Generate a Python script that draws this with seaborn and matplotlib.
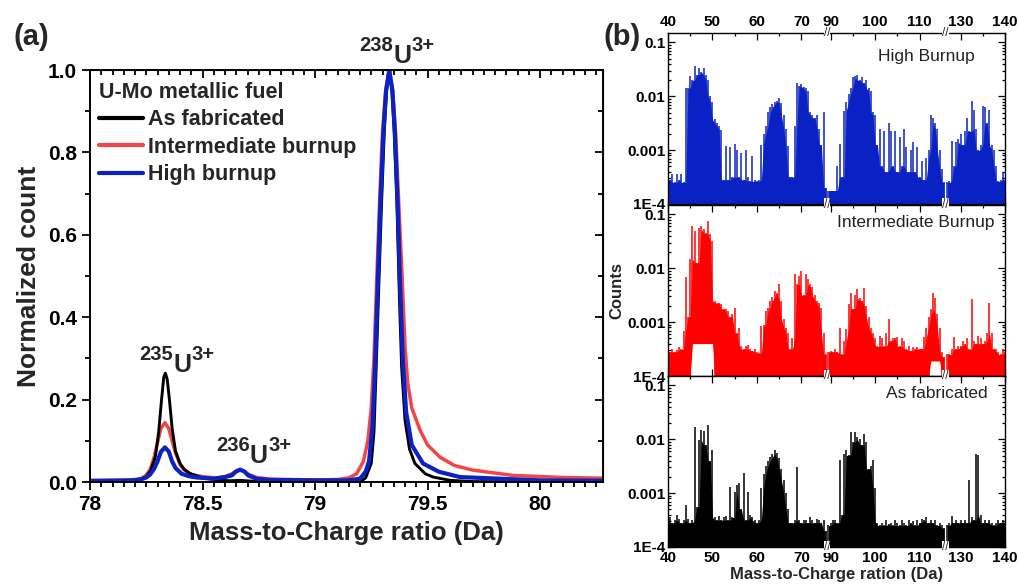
from __future__ import annotations

import matplotlib

matplotlib.use("Agg")
import matplotlib.pyplot as plt
import matplotlib.ticker as mticker
import matplotlib.transforms as mtransforms
import numpy as np
import seaborn as sns

# ---- panel (a): normalized spectra around the U3+ peaks ----
fab_mz = [78.00, 78.15, 78.22, 78.25, 78.27, 78.29, 78.305, 78.318, 78.328, 78.335,
          78.343, 78.353, 78.365, 78.38, 78.40, 78.42, 78.444, 78.50, 78.563, 78.62,
          78.667, 78.72, 78.80, 79.00, 79.15, 79.20, 79.225, 79.25, 79.262, 79.272,
          79.285, 79.296, 79.308, 79.318, 79.33, 79.342, 79.352, 79.364, 79.375, 79.385,
          79.40, 79.42, 79.444, 79.49, 79.525, 79.60, 79.70, 80.30]
fab_count = [0.002, 0.002, 0.006, 0.013, 0.028, 0.06, 0.12, 0.2, 0.255, 0.264,
             0.25, 0.2, 0.13, 0.075, 0.045, 0.03, 0.021, 0.01, 0.005, 0.003,
             0.004, 0.002, 0.001, 0.001, 0.001, 0.0, 0.01, 0.045, 0.12, 0.28,
             0.5, 0.68, 0.85, 0.95, 1.0, 0.95, 0.85, 0.68, 0.45, 0.28,
             0.15, 0.08, 0.045, 0.02, 0.012, 0.004, 0.001, 0.0]

mid_mz = [78.00, 78.15, 78.20, 78.23, 78.25, 78.267, 78.285, 78.30, 78.315, 78.333,
          78.35, 78.365, 78.38, 78.40, 78.415, 78.45, 78.50, 78.56, 78.60, 78.63,
          78.65, 78.667, 78.685, 78.70, 78.74, 78.80, 79.00, 79.10, 79.15, 79.185,
          79.215, 79.235, 79.25, 79.262, 79.275, 79.287, 79.30, 79.314, 79.33, 79.345,
          79.358, 79.372, 79.387, 79.40, 79.412, 79.43, 79.467, 79.50, 79.556, 79.62,
          79.70, 79.88, 80.10, 80.30]
mid_count = [0.003, 0.004, 0.006, 0.009, 0.017, 0.03, 0.06, 0.095, 0.13, 0.144,
             0.13, 0.1, 0.07, 0.043, 0.031, 0.018, 0.013, 0.01, 0.013, 0.02,
             0.026, 0.029, 0.026, 0.02, 0.011, 0.007, 0.005, 0.006, 0.01, 0.02,
             0.05, 0.1, 0.18, 0.3, 0.5, 0.68, 0.85, 0.95, 1.0, 0.95,
             0.85, 0.68, 0.5, 0.33, 0.24, 0.18, 0.126, 0.09, 0.06, 0.04,
             0.029, 0.016, 0.011, 0.009]

high_mz = [78.00, 78.20, 78.23, 78.25, 78.267, 78.285, 78.30, 78.315, 78.333, 78.35,
           78.365, 78.38, 78.407, 78.44, 78.474, 78.55, 78.60, 78.63, 78.65, 78.667,
           78.685, 78.703, 78.74, 78.80, 79.00, 79.15, 79.20, 79.225, 79.24, 79.255,
           79.267, 79.28, 79.291, 79.304, 79.316, 79.33, 79.344, 79.355, 79.367, 79.378,
           79.39, 79.405, 79.43, 79.48, 79.55, 79.644, 80.00, 80.30]
high_count = [0.003, 0.004, 0.007, 0.011, 0.018, 0.032, 0.05, 0.073, 0.084, 0.074,
              0.05, 0.034, 0.02, 0.014, 0.011, 0.008, 0.012, 0.016, 0.026, 0.03,
              0.026, 0.016, 0.008, 0.005, 0.004, 0.004, 0.008, 0.025, 0.05, 0.13,
              0.28, 0.5, 0.68, 0.85, 0.95, 1.0, 0.95, 0.85, 0.68, 0.48,
              0.3, 0.17, 0.09, 0.045, 0.025, 0.012, 0.004, 0.003]

# isotope labels: (mass number, left edge of "U" in Da, baseline in count units)
peak_labels = [("238", 79.347, 1.017), ("235", 78.369, 0.268), ("236", 78.711, 0.046)]

# ---- panel (b): log10(counts) on a 0.5 Da grid, three mass windows ----
mass_lo = np.arange(40.0, 76.0, 0.5)    # 40 .. 75.5
mass_mid = np.arange(89.5, 116.0, 0.5)  # 89.5 .. 115.5
mass_hi = np.arange(127.0, 140.5, 0.5)  # 127 .. 140

high_lo = [-3.35, -3.55, -3.45, -3.6, -3.45, -3.55, -3.45, -3.6, -1.84, -1.85,
           -1.62, -1.7, -1.43, -1.6, -1.47, -1.55, -1.47, -1.6, -1.7, -2.0,
           -2.1, -2.43, -2.5, -2.55, -2.62, -3.55, -2.93, -3.55, -2.95, -3.5,
           -2.88, -3.0, -3.5, -3.05, -3.55, -3.0, -3.5, -3.58, -3.1, -3.55,
           -3.58, -3.55, -2.9, -2.7, -2.55, -2.3, -2.2, -2.15, -2.1, -2.08,
           -2.04, -2.12, -2.35, -2.6, -2.93, -3.5, -3.5, -2.55, -1.76, -1.8,
           -1.78, -1.82, -1.85, -1.9, -2.3, -2.35, -2.4, -2.35, -2.6, -2.9,
           -2.3, -3.7]
high_mid = [-3.75, -3.75, -3.75, -3.75, -3.3, -2.88, -3.5, -2.27, -2.1, -1.95,
            -1.84, -1.65, -1.63, -1.6, -1.7, -1.65, -1.75, -1.7, -1.85, -1.9,
            -2.3, -2.35, -2.9, -2.6, -3.3, -2.65, -3.4, -2.5, -2.65, -3.3,
            -2.65, -3.4, -2.75, -3.3, -2.6, -2.95, -3.4, -3.0, -2.85, -3.4,
            -2.95, -3.5, -3.2, -3.55, -3.15, -3.0, -2.34, -2.4, -2.5, -2.6,
            -3.0, -3.35, -3.6]
high_hi = [-3.6, -3.58, -2.83, -3.3, -2.85, -2.8, -2.7, -2.9, -2.65, -2.4,
           -2.65, -2.09, -2.25, -2.6, -3.0, -2.9, -2.18, -2.2, -2.5, -2.25,
           -2.9, -3.0, -3.3, -3.58, -3.55, -3.4, -3.55]

inter_lo = [-3.47, -3.55, -3.5, -3.55, -3.52, -3.47, -3.5, -3.16, -2.17, -2.9,
            -1.83, -1.22, -1.3, -1.9, -1.25, -1.22, -1.27, -1.35, -1.12, -1.37,
            -1.5, -2.6, -2.65, -2.65, -2.66, -2.75, -2.76, -2.8, -2.9, -2.85,
            -2.73, -3.2, -3.1, -3.45, -3.5, -3.45, -3.42, -3.5, -3.53, -3.5,
            -3.55, -3.58, -3.07, -3.05, -2.8, -2.73, -2.6, -2.54, -2.42, -2.45,
            -2.3, -2.6, -2.95, -3.1, -3.2, -3.5, -3.3, -2.11, -2.3, -2.15,
            -2.05, -2.5, -2.1, -2.2, -2.3, -2.35, -2.5, -2.6, -2.65, -2.73,
            -3.2, -3.6]
inter_mid = [-3.55, -3.53, -3.55, -3.5, -3.55, -3.1, -3.6, -3.35, -3.13, -2.67,
             -2.45, -2.75, -2.5, -2.39, -2.55, -2.6, -2.36, -2.7, -2.9, -3.1,
             -3.2, -3.3, -3.45, -3.25, -3.3, -3.45, -3.2, -2.94, -3.35, -3.3,
             -3.3, -3.27, -3.45, -3.3, -3.35, -3.5, -3.45, -3.53, -3.47, -3.5,
             -3.47, -3.5, -3.5, -3.28, -3.1, -2.9, -2.76, -2.45, -2.55, -2.85,
             -3.1, -3.55, -3.65]
inter_hi = [-3.6, -3.6, -3.5, -3.28, -3.5, -3.45, -3.45, -3.35, -3.4, -3.3,
            -3.5, -2.57, -3.35, -3.4, -3.25, -3.3, -3.4, -3.35, -3.2, -2.64,
            -3.2, -3.5, -3.5, -3.55, -3.6, -3.5, -3.55]
# mass ranges where the intermediate spectrum never drops to the floor
inter_notches = [(45.5, 50.0, 4.0e-4), (112.5, 114.5, 1.9e-4)]

fab_lo = [-3.5, -3.45, -3.55, -3.5, -3.4, -3.48, -3.55, -3.5, -3.22, -3.48,
          -3.55, -3.5, -1.78, -3.25, -2.02, -1.83, -1.85, -2.1, -1.74, -2.4,
          -2.2, -3.45, -3.5, -3.42, -3.5, -3.45, -3.42, -3.5, -2.88, -3.45,
          -2.98, -2.85, -2.82, -3.3, -2.62, -3.5, -2.98, -3.4, -3.45, -3.5,
          -3.55, -3.5, -2.9, -2.65, -2.5, -2.4, -2.33, -2.27, -2.2, -2.25,
          -2.35, -2.55, -2.75, -3.0, -3.3, -3.55, -3.55, -3.5, -2.51, -3.5,
          -3.55, -3.5, -3.5, -3.55, -3.45, -3.5, -3.55, -3.48, -3.5, -3.55,
          -3.5, -3.7]
fab_mid = [-3.6, -3.55, -3.5, -3.5, -3.55, -2.39, -3.4, -2.27, -2.2, -2.3,
           -1.86, -2.05, -1.86, -1.95, -2.0, -2.1, -1.9, -2.05, -2.55, -2.5,
           -2.39, -2.9, -3.55, -3.6, -3.55, -3.6, -3.5, -3.58, -3.55, -3.6,
           -3.5, -3.55, -3.6, -3.5, -3.55, -3.6, -3.5, -3.55, -3.52, -3.6,
           -3.5, -3.55, -3.48, -3.5, -3.45, -3.55, -3.5, -3.55, -3.5, -3.6,
           -3.55, -3.6, -3.65]
fab_hi = [-3.6, -3.55, -3.42, -3.55, -3.5, -3.55, -3.5, -3.55, -3.5, -3.55,
          -2.76, -3.45, -3.5, -2.27, -2.3, -3.4, -3.55, -3.5, -3.55, -3.5,
          -3.55, -3.6, -3.55, -3.5, -3.55, -3.5, -3.55]

# broken mass axis: data mass -> compressed plotting coordinate
brk_mass = [0.0, 40.0, 75.6, 89.4, 115.6, 126.8, 140.0, 200.0]
brk_plot = [-40.0, 0.0, 35.6, 36.0, 62.2, 62.6, 75.8, 135.8]


def fwd(x):
    return np.interp(x, brk_mass, brk_plot)


def inv(u):
    return np.interp(u, brk_plot, brk_mass)


def draw_spectrum(ax, logs, color, notches=()):
    for mass, lv in zip((mass_lo, mass_mid, mass_hi), logs):
        lv = np.asarray(lv)
        # solid body up to the lower neighbour, single spikes above it
        body = np.minimum(np.minimum(np.r_[lv[0], lv[:-1]], lv), np.r_[lv[1:], lv[-1]])
        low = np.full_like(lv, 1e-4)
        for a, b, lvl in notches:
            low[(mass >= a) & (mass <= b)] = lvl
        ax.fill_between(mass, low, 10.0 ** body, color=color, lw=0)
        ax.vlines(mass, low, 10.0 ** lv, color=color, lw=1.1)


def mark_breaks(ax):
    trans = mtransforms.blended_transform_factory(ax.transData, ax.transAxes)
    for xb in (82.5, 121.2):
        for yb in (0.0, 1.0):
            ax.text(xb, yb, "//", transform=trans, ha="center", va="center",
                    fontsize=8.5, fontweight="normal", clip_on=False, zorder=6,
                    bbox=dict(fc="white", ec="none", pad=0.0))


def isotope_label(ax, mass, x, y):
    tu = ax.text(x, y, "U", fontsize=18, ha="left", va="baseline", clip_on=False)
    ax.annotate(mass, xy=(0, 0), xycoords=tu, xytext=(-0.3, 12),
                textcoords="offset points", fontsize=14.5, ha="right", va="baseline")
    ax.annotate("3+", xy=(1, 0), xycoords=tu, xytext=(0.6, 12),
                textcoords="offset points", fontsize=14.5, ha="left", va="baseline")


def main() -> None:
    sns.set_style("ticks")
    plt.rcParams.update({
        "font.family": ["Liberation Sans", "DejaVu Sans"],
        "font.weight": "bold",
        "axes.labelweight": "bold",
        "axes.edgecolor": "black",
        "xtick.color": "black",
        "ytick.color": "black",
    })

    W, H = 1020, 588
    fig = plt.figure(figsize=(W / 100, H / 100), dpi=100)

    # ---------------- panel (a) ----------------
    ax = fig.add_axes([90 / W, 1 - 482 / H, 513 / W, 412 / H])
    red_a, blue, red_b = "#f24646", "#0a22c4", "#ff0000"
    sns.lineplot(x=mid_mz, y=mid_count, color=red_a, lw=2.5, ax=ax,
                 label="Intermediate burnup", estimator=None, sort=False)
    sns.lineplot(x=fab_mz, y=fab_count, color="black", lw=2.1, ax=ax,
                 label="As fabricated", estimator=None, sort=False)
    sns.lineplot(x=high_mz, y=high_count, color=blue, lw=3.0, ax=ax,
                 label="High burnup", estimator=None, sort=False)

    ax.set_xlim(78, 80.28)
    ax.set_ylim(0, 1.0)
    xt = [78, 78.5, 79, 79.5, 80]
    ax.set_xticks(xt, labels=["78", "78.5", "79", "79.5", "80"])
    ax.xaxis.set_minor_locator(mticker.MultipleLocator(0.05))
    ax.set_yticks(np.arange(0, 1.01, 0.2))
    ax.yaxis.set_major_formatter(mticker.FormatStrFormatter("%.1f"))
    ax.yaxis.set_minor_locator(mticker.MultipleLocator(0.1))
    ax.tick_params(which="both", direction="out", width=1.3, labelsize=15)
    ax.tick_params(which="major", length=6)
    ax.tick_params(which="minor", length=3.5)
    for sp in ax.spines.values():
        sp.set_linewidth(1.4)

    top = ax.secondary_xaxis("top")
    top.set_xticks(xt)
    top.xaxis.set_minor_locator(mticker.MultipleLocator(0.05))
    top.tick_params(which="both", direction="in", labeltop=False, width=1.3)
    top.tick_params(which="major", length=6)
    top.tick_params(which="minor", length=3.5)
    right = ax.secondary_yaxis("right")
    right.set_yticks(np.arange(0, 1.01, 0.2))
    right.yaxis.set_minor_locator(mticker.MultipleLocator(0.1))
    right.tick_params(which="both", direction="in", labelright=False, width=1.3)
    right.tick_params(which="major", length=6)
    right.tick_params(which="minor", length=3.5)

    ax.set_xlabel("Mass-to-Charge ratio (Da)", fontsize=18.5, labelpad=5)
    ax.set_ylabel("Normalized count", fontsize=19, labelpad=5)

    handles, labels = ax.get_legend_handles_labels()
    order = [labels.index(s) for s in ("As fabricated", "Intermediate burnup", "High burnup")]
    leg = ax.legend([handles[i] for i in order], [labels[i] for i in order],
                    title="U-Mo metallic fuel", loc="upper left",
                    bbox_to_anchor=(-0.006, 1.0), borderaxespad=0, borderpad=0.55,
                    frameon=False, fontsize=15.5, title_fontsize=15.5,
                    handlelength=2.05, handletextpad=0.25, labelspacing=0.3,
                    alignment="left")
    leg.get_title().set_fontweight("bold")
    for h in leg.legend_handles:
        h.set_linewidth(3.0)

    for mass, x, y in peak_labels:
        isotope_label(ax, mass, x, y)

    fig.text(14 / W, 1 - 45 / H, "(a)", fontsize=21, va="baseline")
    fig.text(604 / W, 1 - 45 / H, "(b)", fontsize=21, va="baseline")

    # ---------------- panel (b) ----------------
    rows = [
        ("High Burnup", (high_lo, high_mid, high_hi), blue, (), 0.911, 0.86, 204),
        ("Intermediate Burnup", (inter_lo, inter_mid, inter_hi), red_b,
         inter_notches, 0.970, 0.90, 376),
        ("As fabricated", (fab_lo, fab_mid, fab_hi), "black", (), 0.947, 0.895, 547),
    ]
    major_x = [40, 50, 60, 70, 90, 100, 110, 130, 140]
    minor_x = [45, 55, 65, 75, 95, 105, 115, 135]
    axes_b = []
    for k, (name, logs, color, notches, tx, ty, ybot) in enumerate(rows):
        bx = fig.add_axes([668 / W, 1 - ybot / H, 337 / W, 171 / H])
        axes_b.append(bx)
        bx.set_xscale("function", functions=(fwd, inv))
        bx.set_yscale("log")
        draw_spectrum(bx, logs, color, notches)
        bx.set_xlim(40, 140)
        bx.set_ylim(1e-4, 0.15)
        bx.set_yticks([1e-4, 1e-3, 1e-2, 1e-1], labels=["1E-4", "0.001", "0.01", "0.1"])
        bx.yaxis.set_minor_locator(mticker.LogLocator(base=10, subs=np.arange(2, 10)))
        bx.yaxis.set_minor_formatter(mticker.NullFormatter())
        bx.set_xticks(major_x, labels=[str(v) for v in major_x])
        bx.xaxis.set_minor_locator(mticker.FixedLocator(minor_x))
        bx.xaxis.set_minor_formatter(mticker.NullFormatter())
        bx.tick_params(which="both", direction="in", top=True, right=True,
                       labelsize=11, width=0.9)
        bx.tick_params(which="major", length=5)
        bx.tick_params(which="minor", length=2.5)
        bx.tick_params(axis="x", labeltop=(k == 0), labelbottom=(k == 2), pad=3)
        bx.tick_params(axis="y", pad=2)
        for sp in bx.spines.values():
            sp.set_linewidth(1.0)
        bx.text(tx, ty, name, transform=bx.transAxes, ha="right", va="center",
                fontsize=12.5, fontweight="normal", color="#222222")
        mark_breaks(bx)

    axes_b[1].set_ylabel("Counts", fontsize=12, labelpad=2)
    axes_b[2].set_xlabel("Mass-to-Charge ration (Da)", fontsize=12, labelpad=1)

    fig.savefig("out.png", dpi=100)
    plt.close(fig)


if __name__ == "__main__":
    main()
